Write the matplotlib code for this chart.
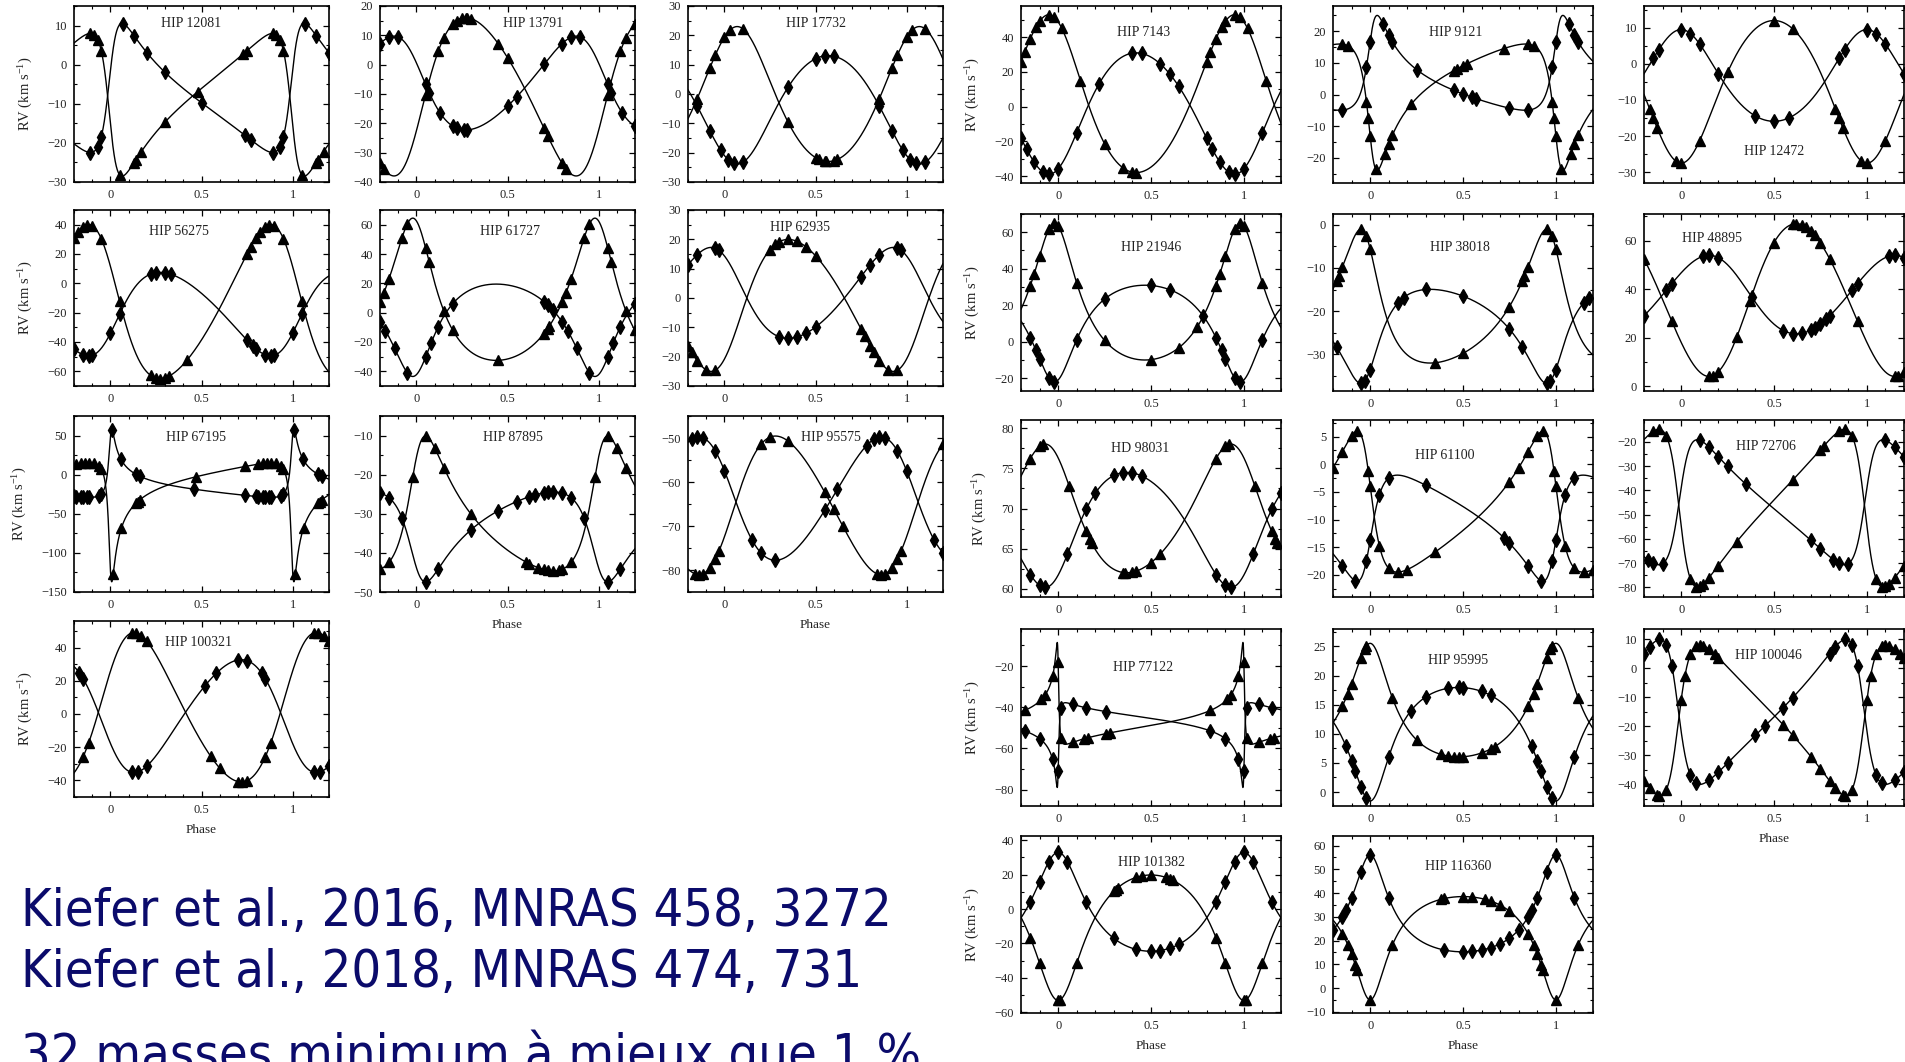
import numpy as np
import matplotlib.pyplot as plt
from matplotlib.ticker import MultipleLocator, AutoMinorLocator
from matplotlib import font_manager as fm

plt.rcParams['font.family'] = ['Liberation Serif', 'DejaVu Serif']
plt.rcParams['mathtext.default'] = 'regular'

# --- orbital solutions (triangles = component A, diamonds = component B) ---
names = ['HIP 12081', 'HIP 13791', 'HIP 17732', 'HIP 56275', 'HIP 61727',
         'HIP 62935', 'HIP 67195', 'HIP 87895', 'HIP 95575', 'HIP 100321',
         'HIP 7143', 'HIP 9121', 'HIP 12472', 'HIP 21946', 'HIP 38018',
         'HIP 48895', 'HD 98031', 'HIP 61100', 'HIP 72706', 'HIP 77122',
         'HIP 95995', 'HIP 100046', 'HIP 101382', 'HIP 116360']
gamma = [-8, -8, -3, -18, -1, 0, -13, -32.5, -64.5, 1,
         1, 4, -5, 14, -22, 37, 68.6, -9.5, -46, -47, 12, -16.5, -5, 26.5]
k_tri = [18.25, 27, 23, 52.5, 48.5, 22.5, 76, 17.25, 15.75, 45,
         45.5, 20, 19.75, 37.5, 15.5, 31.5, 8, 12.75, 32.5, 24.75, 9.75, 26, 36.5, 21.75]
k_dia = [16.5, 16, 18.5, 28.5, 31.5, 15.5, 43.5, 11.5, 14, 34,
         35, 15, 12.7, 26.5, 10.9, 16.2, 7.15, 9.6, 25.8, 20.6, 9.75, 25, 28.8, 20.4]
ecc = [0.55, 0.2, 0.13, 0.2, 0.355, 0.165, 0.8, 0.43, 0.136, 0.155,
       0.15, 0.6, 0.14, 0.36, 0.4, 0.067, 0.2, 0.5, 0.48, 0.88, 0.39, 0.47, 0.32, 0.448]
omega = [103, 237, 0, 58, 10, 227, 142, 314, 248, 296,
         18, 132, 180, 3, 28, 225, 28, 64.5, 95, 51, 5, 263, 180, 180]
phase_max = [0.89, 0.27, 0.07, 0.88, 0.98, 0.35, 0.882, 0.05, 0.28, 0.13,
             0.95, 0.835, 0.5, 0.98, 0.95, 0.62, 0.93, 0.93, 0.88, 0.995, 0.0, 0.1, 0.5, 0.5]
ylims = [(-30, 15), (-40, 20), (-30, 30), (-70, 50), (-50, 70), (-30, 30),
         (-150, 75), (-50, -5), (-85, -45), (-50, 56),
         (-44, 58), (-28, 28), (-33, 16), (-27, 70), (-38.5, 2.5), (-2, 71),
         (59, 81), (-24, 8), (-84, -11), (-88, -2), (-2.4, 28), (-47.5, 13.5),
         (-60.5, 42.5), (-10.5, 64)]
ysteps = [10, 10, 10, 20, 20, 10, 50, 10, 10, 20,
          20, 10, 10, 20, 10, 20, 5, 5, 10, 20, 5, 10, 20, 10]

# observation phases (folded into [0, 1))
tri_phases = [
    [0.05, 0.13, 0.14, 0.17, 0.3, 0.48, 0.73, 0.75, 0.89, 0.91, 0.93, 0.95],
    [0.05, 0.12, 0.15, 0.2, 0.22, 0.25, 0.27, 0.28, 0.3, 0.45, 0.5, 0.7, 0.72, 0.8, 0.82],
    [0.85, 0.92, 0.95, 0.0, 0.03, 0.1, 0.35, 0.5, 0.52, 0.55, 0.56, 0.6, 0.62],
    [0.8, 0.82, 0.85, 0.87, 0.9, 0.95, 0.05, 0.22, 0.25, 0.27, 0.3, 0.32, 0.42, 0.75, 0.77],
    [0.8, 0.82, 0.85, 0.92, 0.95, 0.05, 0.07, 0.15, 0.2, 0.45, 0.7, 0.72, 0.73],
    [0.85, 0.9, 0.95, 0.25, 0.28, 0.3, 0.35, 0.4, 0.45, 0.5, 0.75, 0.77, 0.8, 0.82],
    [0.81, 0.84, 0.86, 0.88, 0.91, 0.935, 0.95, 0.015, 0.06, 0.14, 0.15, 0.16, 0.47, 0.74],
    [0.8, 0.85, 0.98, 0.05, 0.1, 0.15, 0.3, 0.6, 0.62, 0.67, 0.7, 0.72, 0.75, 0.78],
    [0.84, 0.86, 0.88, 0.92, 0.95, 0.97, 0.2, 0.25, 0.35, 0.55, 0.6, 0.65],
    [0.85, 0.88, 0.12, 0.14, 0.17, 0.2, 0.55, 0.6, 0.7, 0.72, 0.75],
    [0.8, 0.82, 0.85, 0.88, 0.9, 0.95, 0.98, 0.02, 0.12, 0.25, 0.35, 0.4, 0.42],
    [0.85, 0.88, 0.98, 0.99, 0.0, 0.03, 0.08, 0.1, 0.12, 0.22, 0.45, 0.47, 0.5, 0.52, 0.72],
    [0.83, 0.85, 0.87, 0.97, 0.0, 0.1, 0.25, 0.5, 0.6],
    [0.85, 0.87, 0.9, 0.95, 0.98, 0.0, 0.1, 0.25, 0.5, 0.65, 0.75],
    [0.82, 0.83, 0.95, 0.98, 0.0, 0.35, 0.5, 0.75, 0.85],
    [0.8, 0.95, 0.15, 0.17, 0.2, 0.3, 0.37, 0.5, 0.6, 0.62, 0.65, 0.67, 0.7, 0.72, 0.75],
    [0.85, 0.9, 0.92, 0.06, 0.15, 0.17, 0.18, 0.35, 0.36, 0.4, 0.42, 0.5, 0.55],
    [0.85, 0.9, 0.93, 0.99, 0.0, 0.05, 0.1, 0.15, 0.2, 0.35, 0.75, 0.8],
    [0.85, 0.88, 0.92, 0.05, 0.08, 0.1, 0.12, 0.15, 0.2, 0.3, 0.6, 0.75, 0.77],
    [0.82, 0.91, 0.93, 0.97, 0.0, 0.016, 0.08, 0.14, 0.16, 0.26, 0.28],
    [0.85, 0.88, 0.9, 0.95, 0.97, 0.98, 0.12, 0.25, 0.38, 0.42, 0.45, 0.48, 0.5, 0.6, 0.65, 0.67],
    [0.83, 0.87, 0.88, 0.92, 0.0, 0.02, 0.05, 0.08, 0.1, 0.12, 0.15, 0.18, 0.2, 0.55, 0.6, 0.7, 0.75, 0.8],
    [0.85, 0.9, 0.0, 0.01, 0.1, 0.3, 0.31, 0.32, 0.42, 0.45, 0.5, 0.58, 0.6, 0.62],
    [0.85, 0.88, 0.9, 0.92, 0.93, 0.0, 0.12, 0.38, 0.4, 0.5, 0.55, 0.62, 0.65, 0.7, 0.75],
]
dia_phases = [
    [0.07, 0.13, 0.2, 0.3, 0.5, 0.74, 0.77, 0.89, 0.93, 0.95],
    [0.05, 0.07, 0.13, 0.2, 0.22, 0.26, 0.28, 0.5, 0.55, 0.7, 0.8, 0.85, 0.9],
    [0.85, 0.92, 0.98, 0.02, 0.05, 0.1, 0.35, 0.5, 0.55, 0.6],
    [0.8, 0.85, 0.88, 0.9, 0.0, 0.05, 0.22, 0.25, 0.3, 0.33, 0.75, 0.78],
    [0.8, 0.83, 0.88, 0.95, 0.05, 0.08, 0.12, 0.2, 0.7, 0.72, 0.75],
    [0.95, 0.97, 0.3, 0.35, 0.4, 0.45, 0.5, 0.75, 0.8, 0.85],
    [0.81, 0.84, 0.88, 0.935, 0.95, 0.01, 0.056, 0.14, 0.16, 0.46, 0.74, 0.8, 0.85, 0.87],
    [0.85, 0.05, 0.12, 0.3, 0.45, 0.55, 0.62, 0.65, 0.7, 0.72, 0.75, 0.8, 0.92],
    [0.85, 0.88, 0.95, 0.0, 0.15, 0.2, 0.28, 0.55, 0.62, 0.78, 0.82],
    [0.83, 0.85, 0.12, 0.15, 0.2, 0.52, 0.58, 0.7, 0.75],
    [0.8, 0.83, 0.87, 0.92, 0.95, 0.0, 0.1, 0.22, 0.4, 0.45, 0.55, 0.6, 0.65],
    [0.85, 0.98, 0.0, 0.07, 0.1, 0.12, 0.25, 0.45, 0.5, 0.55, 0.57, 0.75],
    [0.85, 0.88, 0.0, 0.05, 0.1, 0.2, 0.4, 0.5, 0.58],
    [0.85, 0.88, 0.9, 0.95, 0.98, 0.1, 0.25, 0.5, 0.6, 0.78],
    [0.82, 0.95, 0.97, 0.0, 0.15, 0.18, 0.3, 0.5, 0.75],
    [0.8, 0.92, 0.95, 0.12, 0.15, 0.2, 0.38, 0.55, 0.6, 0.65, 0.7, 0.72, 0.75, 0.78],
    [0.85, 0.9, 0.93, 0.05, 0.15, 0.2, 0.3, 0.35, 0.4, 0.45],
    [0.85, 0.92, 0.98, 0.0, 0.05, 0.1, 0.3, 0.72, 0.75],
    [0.85, 0.9, 0.1, 0.15, 0.2, 0.25, 0.35, 0.7, 0.75, 0.82],
    [0.82, 0.9, 0.97, 0.0, 0.016, 0.08, 0.15, 0.26],
    [0.87, 0.9, 0.92, 0.95, 0.98, 0.1, 0.22, 0.3, 0.42, 0.48, 0.5, 0.6, 0.65],
    [0.8, 0.83, 0.88, 0.92, 0.95, 0.05, 0.08, 0.15, 0.2, 0.25, 0.4, 0.45, 0.55, 0.6],
    [0.85, 0.9, 0.95, 0.0, 0.05, 0.15, 0.3, 0.42, 0.5, 0.55, 0.6, 0.65],
    [0.85, 0.87, 0.9, 0.95, 0.0, 0.1, 0.4, 0.5, 0.55, 0.6, 0.65, 0.7, 0.75, 0.8],
]

# --- panel layout (pixels on a 1905 x 1062 canvas) ---
W, H = 1905, 1062
left_cols, left_rows = [74, 380, 688], [6, 210, 416, 621]
right_cols, right_rows = [1021, 1333, 1644], [6, 214, 420, 629, 836]
boxes = []
for r in range(4):
    for c in range(3):
        if r < 3 or c == 0:
            boxes.append((left_cols[c], left_rows[r], 255, 176))
for r in range(5):
    for c in range(3):
        if r < 4 or c < 2:
            boxes.append((right_cols[c], right_rows[r], 260, 177))
label_xy = [(0.46, 0.9), (0.6, 0.9), (0.5, 0.9), (0.41, 0.88), (0.51, 0.88),
            (0.44, 0.9), (0.48, 0.88), (0.52, 0.88), (0.56, 0.88), (0.49, 0.88),
            (0.47, 0.85), (0.47, 0.85), (0.5, 0.18), (0.5, 0.81), (0.49, 0.81),
            (0.26, 0.86), (0.46, 0.84), (0.43, 0.8), (0.47, 0.85), (0.47, 0.78),
            (0.48, 0.82), (0.48, 0.85), (0.5, 0.85), (0.48, 0.83)]
ylabel_panels = {0, 3, 6, 9, 10, 13, 16, 19, 22}
xlabel_panels = {7, 8, 9, 21, 22, 23}


def rv_shape(phase, e, w, tp):
    M = 2 * np.pi * (np.asarray(phase) - tp)
    E = M.copy()
    for _ in range(60):
        E = E - (E - e * np.sin(E) - M) / (1 - e * np.cos(E))
    nu = 2 * np.arctan2(np.sqrt(1 + e) * np.sin(E / 2), np.sqrt(1 - e) * np.cos(E / 2))
    return np.cos(nu + w) + e * np.cos(w)


def unfold(ph):
    ph = np.asarray(ph)
    out = np.concatenate([ph - 1, ph, ph + 1])
    return out[(out >= -0.2) & (out <= 1.2)]


fig = plt.figure(figsize=(W / 100, H / 100), dpi=100)
grid = np.linspace(-0.2, 1.2, 4000)

for i, name in enumerate(names):
    x0, y0, bw, bh = boxes[i]
    ax = fig.add_axes([x0 / W, 1 - (y0 + bh) / H, bw / W, bh / H])
    e, w = ecc[i], np.radians(omega[i])
    # periastron phase from the phase of the triangle maximum (nu = -omega)
    nu0 = -w
    E0 = 2 * np.arctan2(np.sqrt(1 - e) * np.sin(nu0 / 2), np.sqrt(1 + e) * np.cos(nu0 / 2))
    tp = phase_max[i] - (E0 - e * np.sin(E0)) / (2 * np.pi)

    f = rv_shape(grid, e, w, tp)
    ax.plot(grid, gamma[i] + k_tri[i] * f, color='black', lw=1.0)
    ax.plot(grid, gamma[i] - k_dia[i] * f, color='black', lw=1.0)

    pt = unfold(tri_phases[i])
    pd_ = unfold(dia_phases[i])
    ax.plot(pt, gamma[i] + k_tri[i] * rv_shape(pt, e, w, tp), '^', color='black',
            ms=6.5, mec='black')
    ax.plot(pd_, gamma[i] - k_dia[i] * rv_shape(pd_, e, w, tp), 'd', color='black',
            ms=7, mec='black')

    ax.set_xlim(-0.2, 1.2)
    ax.set_ylim(*ylims[i])
    ax.xaxis.set_minor_locator(MultipleLocator(0.1))
    ax.yaxis.set_major_locator(MultipleLocator(ysteps[i]))
    ax.yaxis.set_minor_locator(AutoMinorLocator(2))
    ax.set_xticks([0, 0.5, 1])
    ax.set_xticklabels(['0', '0.5', '1'])
    ax.tick_params(which='both', direction='in', top=True, right=True,
                   labelsize=9, colors='black', labelcolor='#222222', pad=5)
    ax.tick_params(which='major', length=4, width=0.9)
    ax.tick_params(which='minor', length=2.5, width=0.8)
    for s in ax.spines.values():
        s.set_linewidth(1.2)

    lx, ly = label_xy[i]
    ax.text(lx, ly, name, transform=ax.transAxes, ha='center', va='center',
            fontsize=10, color='#222222')
    if i in ylabel_panels:
        ax.set_ylabel('RV (km s$^{-1}$)', fontsize=10.5, color='#222222', labelpad=9)
    if i in xlabel_panels:
        ax.set_xlabel('Phase', fontsize=9.5, color='#222222', labelpad=6)

# references under the left block
condensed = any('Condensed' in f.fname and 'DejaVuSans' in f.fname
                for f in fm.fontManager.ttflist)
tsize = 37.5 if condensed else 34
tstretch = 'condensed' if condensed else 'normal'
refs = ['Kiefer et al., 2016, MNRAS 458, 3272',
        'Kiefer et al., 2018, MNRAS 474, 731',
        '32 masses minimum à mieux que 1 %']
baselines = [926, 987, 1071]
for txt, yb in zip(refs, baselines):
    fig.text(21 / W, 1 - yb / H, txt, family='DejaVu Sans', stretch=tstretch,
             fontsize=tsize, color='#0b0b6b', ha='left', va='baseline')

fig.savefig('out.png', dpi=100)
